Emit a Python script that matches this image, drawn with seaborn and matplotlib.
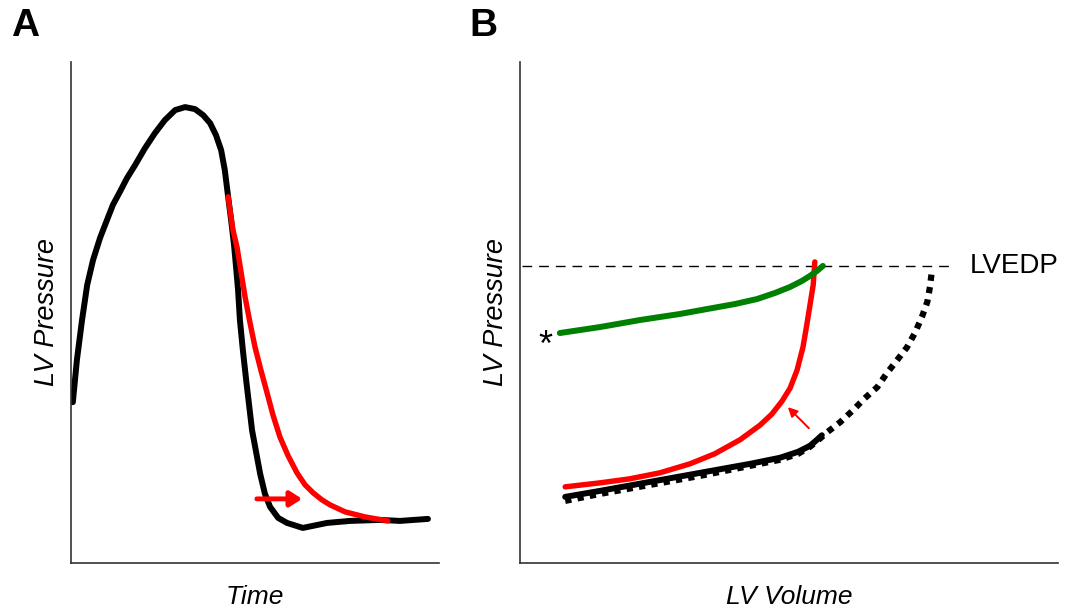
import pandas as pd
import matplotlib.pyplot as plt
import seaborn as sns

sns.set_style("white")
plt.rcParams["font.family"] = ["Liberation Sans", "DejaVu Sans"]
plt.rcParams["text.color"] = "black"
plt.rcParams["axes.labelcolor"] = "black"

# Panel A: LV pressure over time (arbitrary units 0-100)
a_time_black = [0.5, 1.6, 3.0, 4.4, 6.0, 7.9, 9.8, 11.4, 13.3, 15.2, 17.4, 20.1,
                22.8, 25.5, 28.3, 31.0, 33.7, 35.9, 37.8, 39.4, 40.8, 41.8, 42.7,
                43.5, 44.3, 44.8, 45.4, 45.9, 46.7, 47.6, 49.2, 51.4, 52.7, 54.1,
                56.3, 58.7, 63.0, 69.6, 75.8, 84.0, 89.4, 97.0]
a_pres_black = [32.1, 40.5, 48.5, 55.5, 60.5, 64.9, 68.5, 71.5, 74.1, 76.8, 79.4, 82.8,
                85.8, 88.4, 90.4, 91.0, 90.6, 89.4, 87.8, 85.4, 82.4, 78.4, 73.1,
                68.5, 63.5, 59.5, 54.5, 48.5, 42.5, 36.5, 26.5, 17.8, 13.8, 11.2,
                9.0, 8.0, 7.0, 8.0, 8.4, 8.6, 8.4, 8.8]
a_time_red = [42.7, 43.2, 44.0, 45.1, 46.2, 47.3, 48.6, 50.0, 51.6, 53.3, 54.9, 56.8,
              59.0, 61.4, 63.6, 65.8, 68.2, 70.4, 74.5, 79.9, 86.1]
a_pres_red = [73.1, 70.5, 66.5, 63.1, 58.1, 53.1, 48.1, 43.1, 38.5, 33.9, 29.5, 25.1,
              21.4, 18.0, 15.6, 14.0, 12.6, 11.6, 10.2, 9.2, 8.4]
a_arrow = (50.5, 62.8, 12.8)  # x start, x end, y

# Panel B: LV pressure-volume relations
lvedp = 59.3
b_vol_green = [7.4, 14.9, 22.3, 29.7, 34.8, 40.0, 44.1, 47.4, 50.2, 52.4, 53.9, 55.2, 56.3]
b_pres_green = [45.9, 47.1, 48.5, 49.7, 50.7, 51.7, 52.7, 53.9, 55.1, 56.3, 57.3, 58.3, 59.3]
b_vol_red = [8.4, 14.9, 20.4, 26.0, 31.6, 36.2, 40.9, 44.6, 46.8, 48.7, 50.2, 51.5,
             52.6, 53.3, 53.9, 54.5, 54.8]
b_pres_red = [15.2, 16.0, 16.8, 18.0, 19.8, 21.8, 24.6, 27.5, 29.7, 32.3, 34.9, 38.5,
              43.1, 47.5, 51.5, 55.5, 60.1]
b_vol_black = [8.4, 14.9, 24.2, 33.5, 42.8, 48.3, 51.7, 53.9, 55.2, 56.1]
b_pres_black = [13.2, 14.4, 16.2, 18.0, 19.8, 21.0, 22.2, 23.4, 24.6, 25.5]
b_vol_dot = [8.4, 14.9, 24.2, 33.5, 42.8, 48.3, 51.7, 53.9, 55.5, 57.1, 59.5, 61.9,
             64.1, 66.4, 68.2, 70.1, 71.9, 73.4, 74.7, 75.7, 76.2, 76.6]
b_pres_dot = [12.4, 13.8, 15.6, 17.4, 19.4, 20.6, 21.8, 23.2, 24.6, 26.1, 28.1, 30.5,
              32.9, 35.1, 37.9, 40.5, 43.0, 45.9, 49.1, 52.1, 55.1, 58.7]
b_arrow = (53.7, 26.9, 49.8, 31.1)  # tail x, tail y, head x, head y


def curve(ax, x, y, color, lw, **kw):
    df = pd.DataFrame({"x": x, "y": y})
    sns.lineplot(data=df, x="x", y="y", sort=False, color=color,
                 linewidth=lw, ax=ax, **kw)


def style_axes(ax, xlabel):
    ax.set_xlim(0, 100)
    ax.set_ylim(0, 100)
    ax.set_xticks([])
    ax.set_yticks([])
    for side in ["top", "right"]:
        ax.spines[side].set_visible(False)
    for side in ["left", "bottom"]:
        ax.spines[side].set_color("#333333")
        ax.spines[side].set_linewidth(1.2)
    ax.set_xlabel(xlabel, fontsize=19, style="italic", labelpad=16)
    ax.set_ylabel("LV Pressure", fontsize=19.5, style="italic", labelpad=8)


fig = plt.figure(figsize=(10.69, 6.12), dpi=100)
ax_a = fig.add_axes([71 / 1069, 49 / 612, 368 / 1069, 501 / 612])
ax_b = fig.add_axes([520 / 1069, 49 / 612, 538 / 1069, 501 / 612])

# Panel A
curve(ax_a, a_time_black, a_pres_black, "black", 4.3)
curve(ax_a, a_time_red, a_pres_red, "red", 3.9)
ax_a.annotate("", xy=(a_arrow[1], a_arrow[2]), xytext=(a_arrow[0], a_arrow[2]),
              arrowprops=dict(arrowstyle="-|>,head_length=0.7,head_width=0.45",
                              color="red", lw=3.5, shrinkA=0, shrinkB=0))
style_axes(ax_a, "Time")

# Panel B
ax_b.plot([0.4, 80.3], [lvedp, lvedp], color="black", lw=1.0,
          linestyle=(0, (7, 5)))
curve(ax_b, b_vol_dot, b_pres_dot, "black", 4.5,
      linestyle=(0, (1, 1)), dash_capstyle="butt")
curve(ax_b, b_vol_black, b_pres_black, "black", 4.3)
curve(ax_b, b_vol_red, b_pres_red, "red", 3.9)
curve(ax_b, b_vol_green, b_pres_green, "green", 4.3)
ax_b.annotate("", xy=(b_arrow[2], b_arrow[3]), xytext=(b_arrow[0], b_arrow[1]),
              arrowprops=dict(arrowstyle="-|>,head_length=0.55,head_width=0.28",
                              color="red", lw=1.4, shrinkA=0, shrinkB=0))
ax_b.text(83.6, lvedp, "LVEDP", fontsize=20, va="center", ha="left")
ax_b.text(4.8, 43.3, "*", fontsize=26, va="center", ha="center")
style_axes(ax_b, "LV Volume")

fig.text(25 / 1069, 1 - 26 / 612, "A", fontsize=28, fontweight="bold",
         ha="center", va="center")
fig.text(483 / 1069, 1 - 26 / 612, "B", fontsize=28, fontweight="bold",
         ha="center", va="center")

fig.savefig("out.png", dpi=100)
